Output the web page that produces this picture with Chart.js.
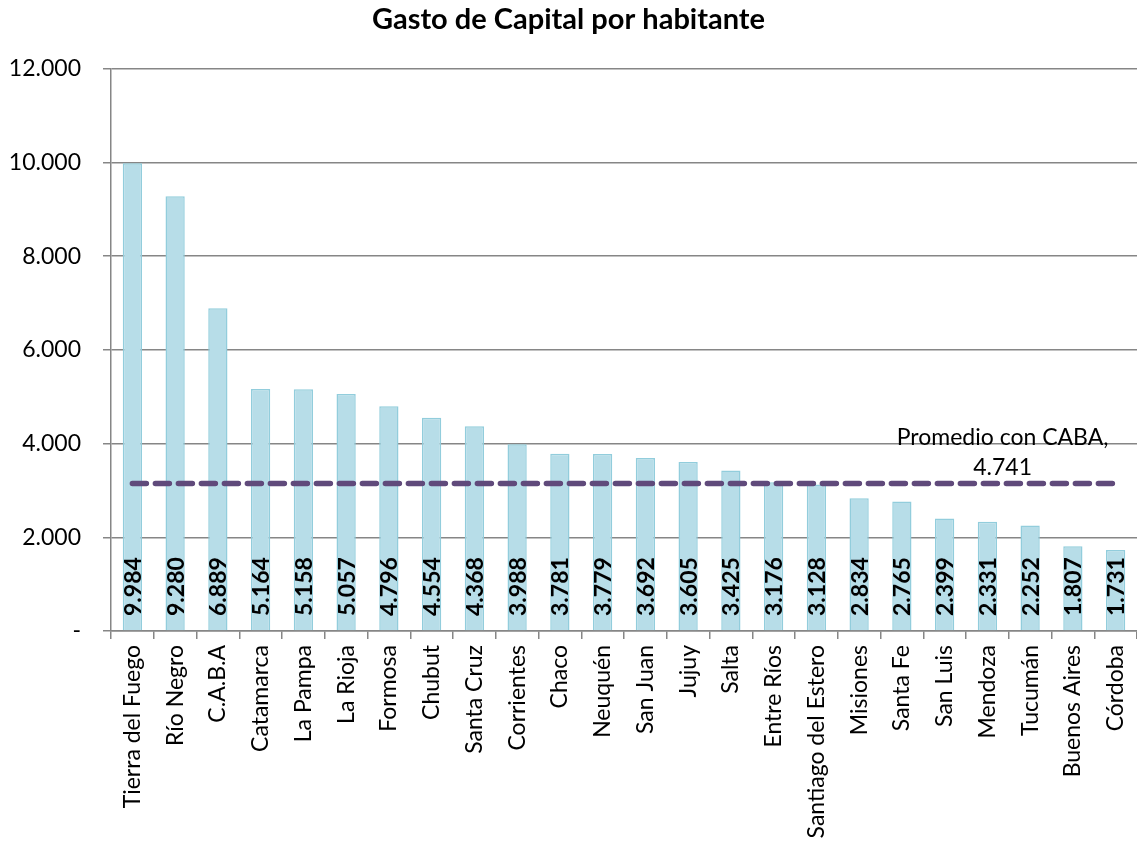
<!DOCTYPE html>
<html lang="es">
<head>
  <meta charset="UTF-8" />
  <title>Gasto de Capital por habitante</title>
  <script src="https://cdn.jsdelivr.net/npm/chart.js"></script>
  <style>
    html, body { margin: 0; padding: 0; background: #fff; }
    #wrap { width: 1137px; height: 847px; }
  </style>
</head>
<body>
  <div id="wrap"><canvas id="grafico"></canvas></div>

  <script>
    // datos
    const provincias = ["Tierra del Fuego", "Río Negro", "C.A.B.A", "Catamarca", "La Pampa", "La Rioja",
      "Formosa", "Chubut", "Santa Cruz", "Corrientes", "Chaco", "Neuquén", "San Juan", "Jujuy", "Salta",
      "Entre Ríos", "Santiago del Estero", "Misiones", "Santa Fe", "San Luis", "Mendoza", "Tucumán",
      "Buenos Aires", "Córdoba"];
    const gasto = [9984, 9280, 6889, 5164, 5158, 5057, 4796, 4554, 4368, 3988, 3781, 3779, 3692, 3605,
      3425, 3176, 3128, 2834, 2765, 2399, 2331, 2252, 1807, 1731];
    const promedio = provincias.map(() => 3150);
    const promedioTexto = ["Promedio con CABA,", "4.741"];
    const yTicks = [0, 2000, 4000, 6000, 8000, 10000, 12000];

    const fuente = "Lato, 'Open Sans', sans-serif";

    function formato(v) {
      return String(Math.round(v)).replace(/\B(?=(\d{3})+(?!\d))/g, ".");
    }

    // valores dentro de las barras y texto del promedio
    const etiquetas = {
      id: "etiquetas",
      afterDatasetsDraw(chart) {
        const ctx = chart.ctx;
        const barras = chart.getDatasetMeta(0);
        ctx.save();
        ctx.fillStyle = "#000";
        ctx.font = "bold 23px " + fuente;
        ctx.textAlign = "left";
        ctx.textBaseline = "middle";
        barras.data.forEach((bar, i) => {
          ctx.save();
          ctx.translate(bar.x + 1, chart.scales.y.getPixelForValue(0) - 15);
          ctx.rotate(-Math.PI / 2);
          ctx.fillText(formato(gasto[i]), 0, 0);
          ctx.restore();
        });
        const linea = chart.getDatasetMeta(1);
        const ult = linea.data[linea.data.length - 1];
        ctx.font = "23px " + fuente;
        ctx.textAlign = "center";
        ctx.fillText(promedioTexto[0], ult.x - 113, ult.y - 46);
        ctx.fillText(promedioTexto[1], ult.x - 113, ult.y - 16);
        ctx.restore();
      }
    };

    new Chart(document.getElementById("grafico"), {
      type: "bar",
      data: {
        labels: provincias,
        datasets: [
          {
            label: "Gasto de Capital",
            data: gasto,
            backgroundColor: "#b7dde8",
            borderColor: "#92cddc",
            borderWidth: 1.5,
            barPercentage: 0.45,
            categoryPercentage: 1,
            order: 1
          },
          {
            type: "line",
            label: "Promedio con CABA",
            data: promedio,
            borderColor: "#604a7b",
            borderWidth: 5.5,
            borderDash: [14, 9],
            borderCapStyle: "round",
            pointRadius: 0,
            fill: false,
            order: 0
          }
        ]
      },
      options: {
        responsive: true,
        maintainAspectRatio: false,
        animation: false,
        plugins: {
          legend: { display: false },
          tooltip: { enabled: false },
          title: {
            display: true,
            text: "Gasto de Capital por habitante",
            color: "#000",
            font: { family: fuente, size: 29, weight: "bold" },
            padding: { top: 2, bottom: 32 }
          }
        },
        scales: {
          x: {
            offset: true,
            grid: { display: true, drawOnChartArea: false, offset: true, color: "#868686", tickLength: 8, lineWidth: 1.5 },
            border: { color: "#868686", width: 1.5 },
            ticks: {
              color: "#000",
              font: { family: fuente, size: 23 },
              minRotation: 90,
              maxRotation: 90,
              autoSkip: false,
              padding: 6
            },
            afterFit(s) { s.height = 216; s.paddingRight = 0; s.paddingLeft = 0; }
          },
          y: {
            min: 0,
            max: 12000,
            afterBuildTicks(s) { s.ticks = yTicks.map(v => ({ value: v })); },
            grid: { color: "#868686", tickLength: 8, lineWidth: 1.5 },
            border: { color: "#868686", width: 1.5 },
            ticks: {
              color: "#000",
              font: { family: fuente, size: 23 },
              padding: 22,
              callback: v => v === 0 ? "-" : formato(v)
            },
            afterFit(s) { s.width = 111; }
          }
        }
      },
      plugins: [etiquetas]
    });
  </script>
</body>
</html>
